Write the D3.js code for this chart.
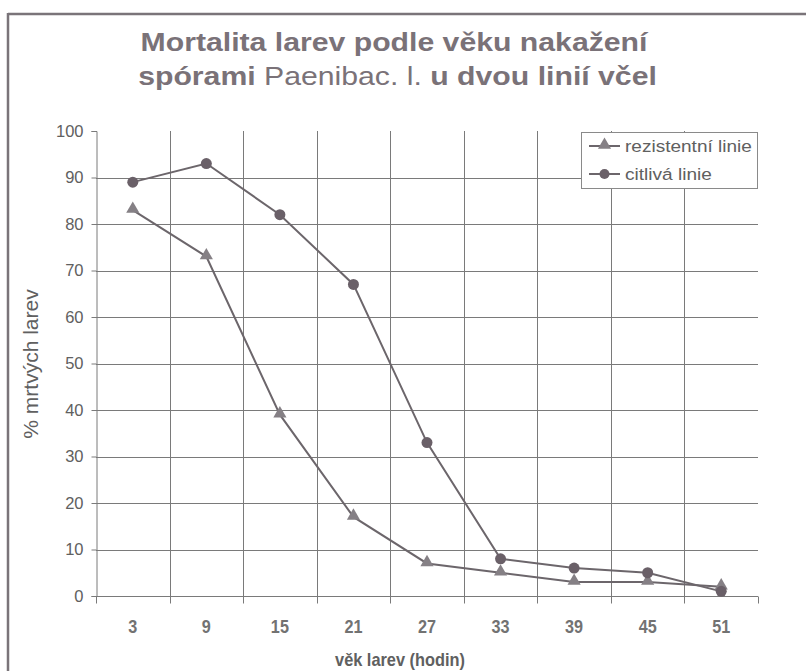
<!DOCTYPE html>
<html>
<head>
<meta charset="utf-8">
<script src="https://cdn.jsdelivr.net/npm/d3@7"></script>
<style>
  html, body { margin: 0; padding: 0; background: #fff; }
  svg { display: block; font-family: "Liberation Sans", Arial, sans-serif; }
</style>
</head>
<body>
<svg id="chart" width="806" height="671"></svg>
<script>
// ---- data ----
const categories = ["3", "9", "15", "21", "27", "33", "39", "45", "51"];
const rezistentni = [83, 73, 39, 17, 7, 5, 3, 3, 2];
const citliva = [89, 93, 82, 67, 33, 8, 6, 5, 1];
const yTicks = [0, 10, 20, 30, 40, 50, 60, 70, 80, 90, 100];
const seriesNames = ["rezistentní linie", "citlivá linie"];
const titleLine1 = "Mortalita larev podle věku nakažení";
const titleLine2 = [["spórami ", "bold"], ["Paenibac. l. ", "normal"], ["u dvou linií včel", "bold"]];
const xTitle = "věk larev (hodin)";
const yTitle = "% mrtvých larev";

// ---- layout ----
const svg = d3.select("#chart");
const pLeft = 96, pRight = 758, pTop = 131, pBottom = 596;
const x = d3.scaleBand().domain(categories).range([pLeft, pRight]).padding(0);
const y = d3.scaleLinear().domain([0, 100]).range([pBottom, pTop]);
const gridColor = "#7a7a7a";
const textColor = "#606060";
const lineColor = "#6c666b";

// outer frame (top and left visible)
svg.append("line").attr("x1", 8).attr("x2", 806).attr("y1", 14).attr("y2", 14)
  .attr("stroke", "#7a7479").attr("stroke-width", 2.5);
svg.append("line").attr("x1", 8).attr("x2", 8).attr("y1", 13).attr("y2", 671)
  .attr("stroke", "#7a7479").attr("stroke-width", 2.5);

// fit text horizontally to a measured width
function fitText(sel, ax, target) {
  const w = sel.node().getComputedTextLength();
  const s = target / w;
  sel.attr("transform", `translate(${ax},0) scale(${s},1) translate(${-ax},0)`);
}

// title
const t1 = svg.append("text").attr("x", 394).attr("y", 51)
  .attr("text-anchor", "middle").attr("font-size", 25).attr("font-weight", "bold")
  .attr("fill", "#7a7278").text(titleLine1);
fitText(t1, 394, 507);
const t2 = svg.append("text").attr("x", 397.5).attr("y", 85)
  .attr("text-anchor", "middle").attr("font-size", 25).attr("fill", "#7a7278");
titleLine2.forEach(([s, w]) => t2.append("tspan").attr("font-weight", w).text(s));
fitText(t2, 397.5, 519);

// horizontal gridlines
svg.append("g").selectAll("line").data(yTicks.filter(d => d > 0 && d < 100)).join("line")
  .attr("x1", pLeft).attr("x2", pRight)
  .attr("y1", d => Math.round(y(d)) + 0.5).attr("y2", d => Math.round(y(d)) + 0.5)
  .attr("stroke", gridColor).attr("stroke-width", 1);

// vertical gridlines at category boundaries
svg.append("g").selectAll("line").data(categories.slice(1)).join("line")
  .attr("x1", d => Math.round(x(d)) + 0.5).attr("x2", d => Math.round(x(d)) + 0.5)
  .attr("y1", pTop).attr("y2", pBottom)
  .attr("stroke", gridColor).attr("stroke-width", 1);

// y axis
const yAxis = d3.axisLeft(y).tickValues(yTicks).tickSize(5).tickPadding(8);
const gy = svg.append("g").attr("transform", `translate(${pLeft + 0.5},0)`).call(yAxis);
gy.select(".domain").attr("stroke", gridColor);
gy.selectAll(".tick line").attr("stroke", gridColor);
gy.selectAll(".tick text").attr("font-size", 16.5).attr("fill", textColor)
  .attr("font-family", "Liberation Sans, Arial, sans-serif");

// x axis: ticks at category boundaries, labels at centers
const gx = svg.append("g").attr("transform", `translate(0,${Math.round(pBottom) + 0.5})`);
gx.append("line").attr("x1", pLeft).attr("x2", pRight).attr("stroke", gridColor);
const boundaries = categories.map(c => x(c)).concat([pRight]);
gx.selectAll("line.tk").data(boundaries).join("line").attr("class", "tk")
  .attr("x1", d => Math.round(d) + 0.5).attr("x2", d => Math.round(d) + 0.5)
  .attr("y1", 0).attr("y2", 7).attr("stroke", gridColor);
gx.selectAll("text").data(categories).join("text")
  .attr("x", d => x(d) + x.bandwidth() / 2).attr("y", 37)
  .attr("text-anchor", "middle").attr("font-size", 18).attr("font-weight", "bold")
  .attr("fill", "#727272")
  .attr("transform", d => { const c = x(d) + x.bandwidth() / 2; return `translate(${c},0) scale(0.9,1) translate(${-c},0)`; })
  .text(d => d);

// axis titles
const xt = svg.append("text").attr("x", 400).attr("y", 666).attr("text-anchor", "middle")
  .attr("font-size", 17.5).attr("font-weight", "bold").attr("fill", textColor).text(xTitle);
fitText(xt, 400, 130);
svg.append("text").attr("transform", "translate(38,364) rotate(-90)")
  .attr("text-anchor", "middle").attr("font-size", 21).attr("fill", textColor).text(yTitle);

// series
const cxOf = d => x(d) + x.bandwidth() / 2;
const line = d3.line().x((v, i) => cxOf(categories[i])).y(v => y(v));
const tri = d3.symbol().type(d3.symbolTriangle).size(75);

svg.append("path").datum(rezistentni).attr("d", line)
  .attr("fill", "none").attr("stroke", lineColor).attr("stroke-width", 2);
svg.append("path").datum(citliva).attr("d", line)
  .attr("fill", "none").attr("stroke", lineColor).attr("stroke-width", 2);

svg.append("g").selectAll("path").data(rezistentni).join("path")
  .attr("d", tri).attr("transform", (v, i) => `translate(${cxOf(categories[i])},${y(v) - 1})`)
  .attr("fill", "#858085");
svg.append("g").selectAll("circle").data(citliva).join("circle")
  .attr("cx", (v, i) => cxOf(categories[i])).attr("cy", v => y(v)).attr("r", 5.5)
  .attr("fill", "#6a6068");

// legend
const lg = svg.append("g");
lg.append("rect").attr("x", 581.5).attr("y", 132.5).attr("width", 176).attr("height", 56)
  .attr("fill", "#fff").attr("stroke", "#8a8a8a");
const ly = [146, 174];
const lw = [127, 87];
seriesNames.forEach((name, i) => {
  lg.append("line").attr("x1", 589).attr("x2", 620).attr("y1", ly[i]).attr("y2", ly[i])
    .attr("stroke", lineColor).attr("stroke-width", 2);
  if (i === 0) {
    lg.append("path").attr("d", tri).attr("transform", `translate(604.5,${ly[i] - 1})`).attr("fill", "#858085");
  } else {
    lg.append("circle").attr("cx", 604.5).attr("cy", ly[i]).attr("r", 5).attr("fill", "#6a6068");
  }
  const tt = lg.append("text").attr("x", 625).attr("y", ly[i] + 6).attr("font-size", 17)
    .attr("fill", textColor).text(name);
  fitText(tt, 625, lw[i]);
});
</script>
</body>
</html>
